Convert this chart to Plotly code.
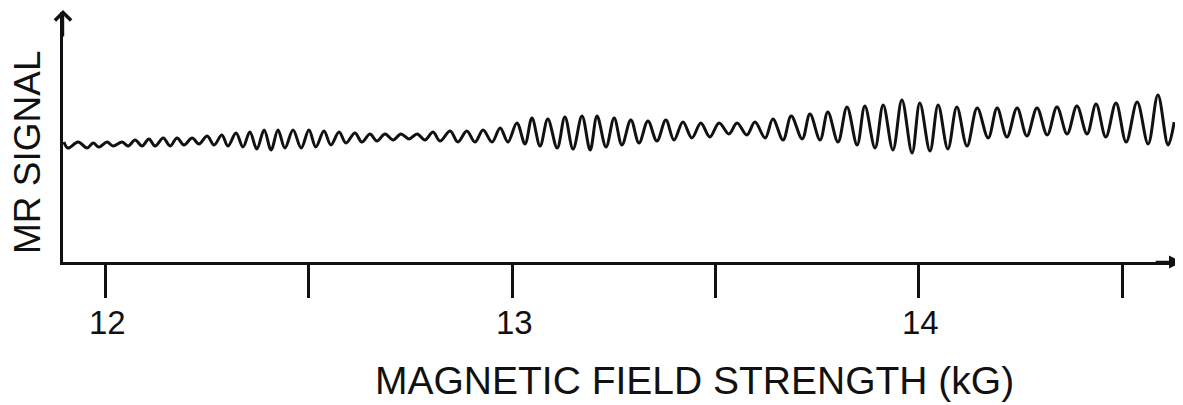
import plotly.graph_objects as go

# Magnetic field (kG) at each successive extremum of the trace
field_kG = [
    11.899, 11.909, 11.934, 11.956, 11.971, 11.985, 12.005, 12.020, 12.042, 12.057,
    12.074, 12.091, 12.108, 12.123, 12.143, 12.160, 12.177, 12.194, 12.214, 12.231,
    12.251, 12.268, 12.287, 12.302, 12.322, 12.339, 12.356, 12.373, 12.391, 12.408,
    12.425, 12.442, 12.462, 12.482, 12.501, 12.518, 12.538, 12.555, 12.575, 12.592,
    12.614, 12.631, 12.651, 12.668, 12.688, 12.708, 12.727, 12.747, 12.767, 12.786,
    12.806, 12.823, 12.848, 12.867, 12.889, 12.909, 12.929, 12.951, 12.971, 12.990,
    13.012, 13.032, 13.049, 13.069, 13.088, 13.111, 13.130, 13.150, 13.172, 13.192,
    13.209, 13.231, 13.251, 13.270, 13.292, 13.312, 13.334, 13.356, 13.378, 13.398,
    13.420, 13.442, 13.464, 13.486, 13.509, 13.533, 13.553, 13.577, 13.597, 13.622,
    13.641, 13.666, 13.686, 13.713, 13.732, 13.757, 13.776, 13.801, 13.823, 13.848,
    13.867, 13.892, 13.912, 13.936, 13.958, 13.983, 14.002, 14.027, 14.047, 14.071,
    14.093, 14.118, 14.143, 14.170, 14.192, 14.216, 14.241, 14.265, 14.290, 14.315,
    14.339, 14.364, 14.388, 14.413, 14.435, 14.459, 14.484, 14.509, 14.536, 14.563,
    14.587, 14.612, 14.627,
]

# MR signal (arbitrary units) at those extrema
mr_signal = [
    12.0, 11.4, 12.0, 11.4, 11.9, 11.5, 12.0, 11.6, 12.0, 11.6,
    12.2, 11.6, 12.3, 11.6, 12.4, 11.6, 12.4, 11.7, 12.4, 11.8,
    12.6, 11.7, 12.7, 11.6, 12.9, 11.5, 13.0, 11.3, 13.2, 11.2,
    13.2, 11.4, 13.2, 11.4, 13.2, 11.5, 13.1, 11.7, 13.0, 11.9,
    12.9, 12.0, 12.8, 12.1, 12.8, 12.2, 12.8, 12.3, 12.8, 12.2,
    13.0, 12.1, 13.1, 12.0, 13.1, 12.0, 13.2, 12.0, 13.4, 12.0,
    13.9, 11.8, 14.4, 11.6, 14.3, 11.4, 14.5, 11.3, 14.6, 11.2,
    14.6, 11.5, 14.4, 11.7, 14.2, 11.9, 14.1, 12.1, 14.2, 12.2,
    14.0, 12.4, 13.9, 12.5, 13.9, 12.8, 13.9, 12.7, 14.0, 12.4,
    14.3, 12.2, 14.6, 12.3, 14.8, 12.2, 15.0, 12.0, 15.5, 11.7,
    15.6, 11.4, 15.7, 11.2, 16.2, 10.9, 15.9, 11.1, 15.7, 11.3,
    15.5, 11.6, 15.4, 12.4, 15.4, 12.5, 15.4, 12.6, 15.4, 12.7,
    15.5, 12.8, 15.6, 12.8, 15.8, 12.5, 15.9, 12.0, 16.0, 11.8,
    16.7, 11.7, 14.0,
]

tick_values = [12.0, 12.5, 13.0, 13.5, 14.0, 14.5]
label_values = [12, 13, 14]
label_texts = ["12", "13", "14"]

x_title = "MAGNETIC FIELD STRENGTH (kG)"
y_title = "MR SIGNAL"

FONT = "Liberation Sans, Arial, sans-serif"
INK = "#111111"

fig = go.Figure()
fig.add_trace(go.Scatter(
    x=field_kG, y=mr_signal, mode="lines",
    line=dict(color=INK, width=3, shape="spline", smoothing=1.0),
    hoverinfo="skip", showlegend=False,
))

annotations = [
    # arrow heads on the axes
    dict(xref="paper", yref="paper", x=1.002, y=0.0, ax=-28, ay=0,
         showarrow=True, arrowhead=2, arrowsize=1.0, arrowwidth=2.6,
         arrowcolor=INK, text=""),
    dict(xref="paper", yref="paper", x=0.0, y=1.008, ax=0, ay=28,
         showarrow=True, arrowhead=4, arrowsize=1.3, arrowwidth=2.4,
         arrowcolor=INK, text=""),
    dict(xref="paper", yref="paper", x=0.5654, y=-0.472,
         xanchor="center", yanchor="middle", showarrow=False,
         text=x_title, font=dict(size=39, family=FONT, color=INK)),
    dict(xref="paper", yref="paper", x=-0.0322, y=0.44,
         xanchor="center", yanchor="middle", showarrow=False,
         textangle=-90, text=y_title,
         font=dict(size=37, family=FONT, color=INK)),
]
for v, t in zip(label_values, label_texts):
    annotations.append(dict(
        xref="x", yref="paper", x=v, y=-0.242,
        xanchor="center", yanchor="middle", showarrow=False,
        xshift=2, text=t, font=dict(size=33, family=FONT, color=INK),
    ))

# the page body adds an 8 px margin; the figure is sized so the
# plot area lands at the same place as in the reference
fig.update_layout(
    width=1175, height=397,
    margin=dict(l=55, r=3, t=4, b=143),
    paper_bgcolor="white", plot_bgcolor="white",
    showlegend=False,
    font=dict(family=FONT, color=INK),
    xaxis=dict(
        range=[11.8968, 14.6413],
        tickmode="array", tickvals=tick_values, showticklabels=False,
        ticks="outside", ticklen=33, tickwidth=2.6, tickcolor=INK,
        showline=True, linecolor=INK, linewidth=2.6,
        showgrid=False, zeroline=False,
    ),
    yaxis=dict(
        range=[0, 25],
        showticklabels=False, ticks="",
        showline=True, linecolor=INK, linewidth=2.6,
        showgrid=False, zeroline=False,
    ),
    annotations=annotations,
)

fig.write_html("out.html")
